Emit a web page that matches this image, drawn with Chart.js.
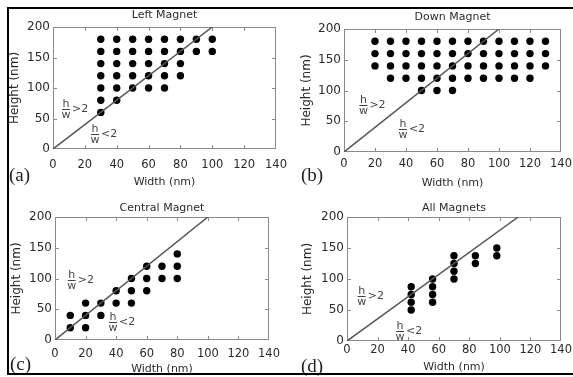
<!DOCTYPE html>
<html>
<head>
<meta charset="utf-8">
<script src="https://cdn.jsdelivr.net/npm/chart.js@4.4.0/dist/chart.umd.min.js"></script>
<style>
  html, body { margin: 0; padding: 0; background: #fff; overflow: hidden; }
  body { width: 573px; height: 377px; position: relative; }
  .frame { position: absolute; left: 7px; top: 7px; width: 620px; height: 364px; border: 2px solid #000; pointer-events: none; z-index: 5; }
  .panel { position: absolute; }
  .tag { position: absolute; font-family: "Liberation Serif", serif; font-size: 19px; line-height: 19px; color: #222; }
</style>
</head>
<body>
<div class="panel" style="left:0;top:0;width:288px;height:192px"><canvas id="chartA" width="288" height="192"></canvas></div>
<div class="panel" style="left:288px;top:0;width:285px;height:192px"><canvas id="chartB" width="285" height="192"></canvas></div>
<div class="panel" style="left:0;top:192px;width:288px;height:185px"><canvas id="chartC" width="288" height="185"></canvas></div>
<div class="panel" style="left:288px;top:192px;width:285px;height:185px"><canvas id="chartD" width="285" height="185"></canvas></div>
<div class="tag" style="left:9px;top:165px">(a)</div>
<div class="tag" style="left:301px;top:165px">(b)</div>
<div class="tag" style="left:10px;top:354px">(c)</div>
<div class="tag" style="left:301px;top:356px">(d)</div>
<div class="frame"></div>
<script>
// tick labels
const xTickValues = [0, 20, 40, 60, 80, 100, 120, 140];
const yTickValues = [0, 50, 100, 150, 200];

// h/w = 2 reference lines
const ratioLineX = [0, 100];
const ratioLineY = [0, 200];
const allLineX = [0, 112];

// (a) Left Magnet: widths and the heights measured at each width
const leftWidths = [30, 40, 50, 60, 70, 80, 90, 100];
const leftHeights = [
    [60, 80, 100, 120, 140, 160, 180],
    [80, 100, 120, 140, 160, 180],
    [100, 120, 140, 160, 180],
    [100, 120, 140, 160, 180],
    [100, 120, 140, 160, 180],
    [120, 140, 160, 180],
    [160, 180],
    [160, 180]
];

// (b) Down Magnet
const downWidths = [20, 30, 40, 50, 60, 70, 80, 90, 100, 110, 120, 130];
const downHeights = [
    [140, 160, 180],
    [120, 140, 160, 180],
    [120, 140, 160, 180],
    [100, 120, 140, 160, 180],
    [100, 120, 140, 160, 180],
    [100, 120, 140, 160, 180],
    [120, 140, 160, 180],
    [120, 140, 160, 180],
    [120, 140, 160, 180],
    [120, 140, 160, 180],
    [120, 140, 160, 180],
    [140, 160, 180]
];

// (c) Central Magnet
const centralWidths = [10, 20, 30, 40, 50, 60, 70, 80];
const centralHeights = [
    [20, 40],
    [20, 40, 60],
    [40, 60],
    [60, 80],
    [60, 80, 100],
    [80, 100, 120],
    [100, 120],
    [100, 120, 140]
];

// (d) All Magnets
const allWidths = [42, 56, 70, 84, 98];
const allHeights = [
    [50, 62.5, 75, 87.5],
    [62.5, 75, 87.5, 100],
    [100, 112.5, 125, 137.5],
    [125, 137.5],
    [137.5, 150]
];

const textColor = '#2a2a2a';
const frameColor = '#8a8a8a';
Chart.defaults.font.family = '"DejaVu Sans", sans-serif';

function toPoints(widths, heights) {
    const pts = [];
    widths.forEach((w, i) => heights[i].forEach(h => pts.push({ x: w, y: h })));
    return pts;
}

function linePoints(xs, ys) {
    return xs.map((x, i) => ({ x: x, y: ys[i] }));
}

// frame, inward ticks, title and h/w notes
const panelDecor = {
    id: 'panelDecor',
    beforeDatasetsDraw(chart, args, opts) {
        const { ctx, chartArea: a, scales: { x, y } } = chart;
        ctx.save();
        ctx.strokeStyle = frameColor;
        ctx.lineWidth = 1;
        ctx.strokeRect(Math.round(a.left) + 0.5, Math.round(a.top) + 0.5, Math.round(a.width) - 1, Math.round(a.height) - 1);
        ctx.beginPath();
        xTickValues.slice(1, -1).forEach(v => {
            const px = Math.round(x.getPixelForValue(v)) + 0.5;
            ctx.moveTo(px, a.bottom); ctx.lineTo(px, a.bottom - 4);
            ctx.moveTo(px, a.top); ctx.lineTo(px, a.top + 4);
        });
        yTickValues.slice(1, -1).forEach(v => {
            const py = Math.round(y.getPixelForValue(v)) + 0.5;
            ctx.moveTo(a.left, py); ctx.lineTo(a.left + 4, py);
            ctx.moveTo(a.right, py); ctx.lineTo(a.right - 4, py);
        });
        ctx.stroke();
        ctx.restore();
    },
    afterDraw(chart, args, opts) {
        const { ctx, chartArea: a, scales: { x, y } } = chart;
        ctx.save();
        ctx.fillStyle = textColor;
        ctx.textAlign = 'center';
        ctx.textBaseline = 'middle';
        ctx.font = '11px "DejaVu Sans"';
        ctx.fillText(opts.title, (a.left + a.right) / 2, a.top - opts.titleGap);

        ctx.fillStyle = '#444';
        ctx.strokeStyle = '#444';
        ctx.lineWidth = 1;
        opts.notes.forEach(n => {
            const cx = x.getPixelForValue(n.x);
            const cy = Math.round(y.getPixelForValue(n.y)) + 0.5;
            ctx.textAlign = 'center';
            ctx.fillText('h', cx, cy - 5);
            ctx.fillText('w', cx, cy + 6);
            ctx.beginPath();
            ctx.moveTo(cx - 4, cy); ctx.lineTo(cx + 4, cy);
            ctx.stroke();
            ctx.textAlign = 'left';
            ctx.fillText(n.text, cx + 6, cy);
        });
        ctx.restore();
    }
};

function makePanel(id, p) {
    new Chart(document.getElementById(id), {
        type: 'scatter',
        data: {
            datasets: [
                {
                    data: linePoints(p.lineX, ratioLineY),
                    showLine: true,
                    borderColor: '#555',
                    borderWidth: 1.5,
                    pointRadius: 0
                },
                {
                    data: toPoints(p.widths, p.heights),
                    backgroundColor: '#000',
                    borderWidth: 0,
                    pointRadius: 3.7
                }
            ]
        },
        options: {
            responsive: false,
            animation: false,
            events: [],
            layout: { padding: { top: p.padTop, right: p.padRight, left: 0, bottom: 0 } },
            plugins: {
                legend: { display: false },
                tooltip: { enabled: false },
                panelDecor: { title: p.title, titleGap: p.titleGap, notes: p.notes }
            },
            scales: {
                x: {
                    type: 'linear', min: 0, max: 140,
                    afterBuildTicks: s => { s.ticks = xTickValues.map(v => ({ value: v })); },
                    afterFit: s => { s.height = p.xh; s.paddingLeft = 0; s.paddingRight = 0; },
                    grid: { display: false, drawTicks: false },
                    border: { display: false },
                    ticks: { padding: p.xTickPad, color: textColor, maxRotation: 0, autoSkip: false, font: { size: 11.5 } },
                    title: { display: true, text: 'Width (nm)', color: textColor, font: { size: 11 }, padding: { top: 0, bottom: p.xTitlePad } }
                },
                y: {
                    type: 'linear', min: 0, max: 200,
                    afterBuildTicks: s => { s.ticks = yTickValues.map(v => ({ value: v })); },
                    afterFit: s => { s.width = p.yw; s.paddingTop = 0; s.paddingBottom = 0; },
                    grid: { display: false, drawTicks: false },
                    border: { display: false },
                    ticks: { padding: 3, color: textColor, font: { size: 12 } },
                    title: { display: true, text: 'Height (nm)', color: textColor, font: { size: 12 }, padding: { top: p.yTitlePad, bottom: 0 } }
                }
            }
        },
        plugins: [panelDecor]
    });
}

makePanel('chartA', {
    title: 'Left Magnet', widths: leftWidths, heights: leftHeights, lineX: ratioLineX,
    padTop: 27, padRight: 12, yw: 53, xh: 43, xTickPad: 9, xTitlePad: 3.4, yTitlePad: 7.8, titleGap: 12,
    notes: [{ x: 8.2, y: 65.6, text: '>2' }, { x: 26.4, y: 24.6, text: '<2' }]
});
makePanel('chartB', {
    title: 'Down Magnet', widths: downWidths, heights: downHeights, lineX: ratioLineX,
    padTop: 29, padRight: 12, yw: 56, xh: 40, xTickPad: 5, xTitlePad: 2.4, yTitlePad: 11.8, titleGap: 12,
    notes: [{ x: 12.5, y: 76, text: '>2' }, { x: 38, y: 37, text: '<2' }]
});
makePanel('chartC', {
    title: 'Central Magnet', widths: centralWidths, heights: centralHeights, lineX: ratioLineX,
    padTop: 25, padRight: 19, yw: 55, xh: 37, xTickPad: 7, xTitlePad: 1.6, yTitlePad: 9.8, titleGap: 9,
    notes: [{ x: 10.9, y: 97.5, text: '>2' }, { x: 38, y: 29.8, text: '<2' }]
});
makePanel('chartD', {
    title: 'All Magnets', widths: allWidths, heights: allHeights, lineX: allLineX,
    padTop: 25, padRight: 12, yw: 59, xh: 36, xTickPad: 2, xTitlePad: 3.4, yTitlePad: 12.8, titleGap: 8.5,
    notes: [{ x: 9.6, y: 73, text: '>2' }, { x: 34.7, y: 15.6, text: '<2' }]
});
</script>
</body>
</html>
